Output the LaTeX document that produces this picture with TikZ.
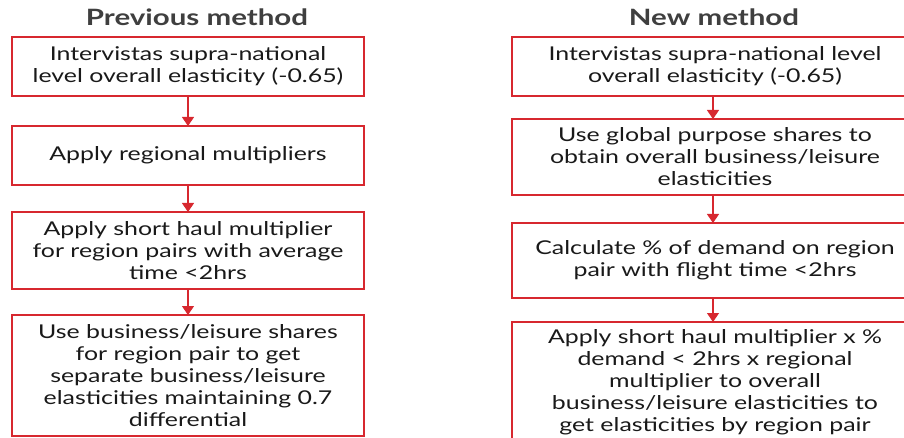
\documentclass[tikz,border=0pt]{standalone}
\usepackage{fontspec}
\setmainfont{Lato}[FakeStretch=1.31]
\usetikzlibrary{arrows.meta}
\definecolor{boxred}{HTML}{D7282F}
\definecolor{titlegrey}{HTML}{3F3F3F}
\begin{document}
\begin{tikzpicture}[x=1pt,y=-1pt,
	stepbox/.style={draw=boxred,line width=2pt,align=center,inner sep=0,outer sep=0,
		font=\fontsize{19}{22}\selectfont,text=black!90},
	oldbox/.style={stepbox,minimum width=352pt},
	newbox/.style={stepbox,minimum width=406pt},
	heading/.style={font=\fontsize{22.5}{24}\selectfont\bfseries,text=titlegrey},
	link/.style={draw=boxred,line width=1.3pt,-{Triangle[width=12pt,length=9pt]}}]
	\useasboundingbox (0,0) rectangle (904,438);
	\clip (0,0) rectangle (904,438);
	\node[heading] (ptitle) at (197,17) {Previous method};
	\node[heading] (ntitle) at (714,17) {New method};
	\node[oldbox,minimum height=59pt] (p1) at (188,66.5) {Intervistas supra-national\\level overall elasticity (-0.65)};
	\node[oldbox,minimum height=59pt] (p2) at (188,155.5) {Apply regional multipliers};
	\node[oldbox,minimum height=77pt] (p3) at (188,250.5) {Apply short haul multiplier\\for region pairs with average\\time <2hrs};
	\node[oldbox,minimum height=121pt] (p4) at (188,375.5) {Use business/leisure shares\\for region pair to get\\separate business/leisure\\elasticities maintaining 0.7\\differential};
	\node[newbox,minimum height=59pt] (n1) at (715,66.5) {Intervistas supra-national level\\overall elasticity (-0.65)};
	\node[newbox,minimum height=76pt] (n2) at (715,157) {Use global purpose shares to\\obtain overall business/leisure\\elasticities};
	\node[newbox,minimum height=75pt] (n3) at (715,260.5) {Calculate \% of demand on region\\pair with flight time <2hrs};
	\node[newbox,minimum height=120pt,anchor=north] (n4) at (715,322) {Apply short haul multiplier x \%\\demand < 2hrs x regional\\multiplier to overall\\business/leisure elasticities to\\get elasticities by region pair};
	\draw[link] (p1) -- (p2);
	\draw[link] (p2) -- (p3);
	\draw[link] (p3) -- (p4);
	\draw[link] ([xshift=-2pt]n1.south) -- ([xshift=-2pt]n2.north);
	\draw[link] ([xshift=-2pt]n2.south) -- ([xshift=-2pt]n3.north);
	\draw[link] ([xshift=-2pt]n3.south) -- ([xshift=-2pt]n4.north);
\end{tikzpicture}
\end{document}
